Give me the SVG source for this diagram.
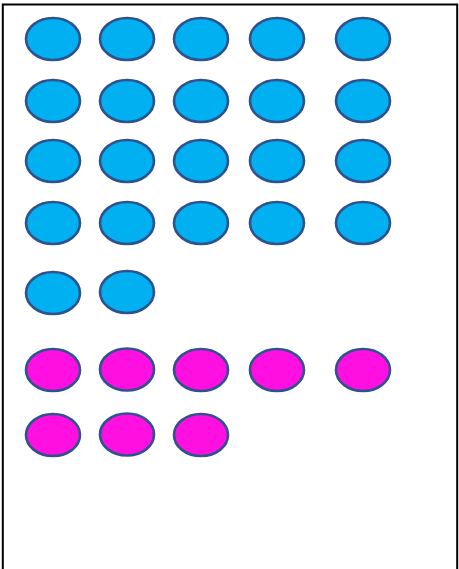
<svg xmlns="http://www.w3.org/2000/svg" width="459" height="569" viewBox="0 0 459 569">
<style>
.b{fill:#00B0F0;stroke:#2F528F;stroke-width:2.6}
.m{fill:#FF10E0;stroke:#2F528F;stroke-width:2.6}
</style>
<rect x="0" y="0" width="459" height="569" fill="#ffffff"/>
<rect id="frame" x="2.8" y="4.5" width="454.4" height="580" fill="none" stroke="#000" stroke-width="2"/>
<g id="blue">
<g id="b1"><ellipse class="b" cx="53" cy="39" rx="27" ry="21"/></g>
<g id="b2"><ellipse class="b" cx="127" cy="39" rx="27" ry="21"/></g>
<g id="b3"><ellipse class="b" cx="201" cy="39" rx="27" ry="21"/></g>
<g id="b4"><ellipse class="b" cx="277" cy="39" rx="27" ry="21"/></g>
<g id="b5"><ellipse class="b" cx="363" cy="39" rx="27" ry="21"/></g>
<g id="b6"><ellipse class="b" cx="53" cy="101" rx="27" ry="21"/></g>
<g id="b7"><ellipse class="b" cx="127" cy="101" rx="27" ry="21"/></g>
<g id="b8"><ellipse class="b" cx="201" cy="101" rx="27" ry="21"/></g>
<g id="b9"><ellipse class="b" cx="277" cy="101" rx="27" ry="21"/></g>
<g id="b10"><ellipse class="b" cx="363" cy="101" rx="27" ry="21"/></g>
<g id="b11"><ellipse class="b" cx="53" cy="161" rx="27" ry="21"/></g>
<g id="b12"><ellipse class="b" cx="127" cy="161" rx="27" ry="21"/></g>
<g id="b13"><ellipse class="b" cx="201" cy="161" rx="27" ry="21"/></g>
<g id="b14"><ellipse class="b" cx="277" cy="161" rx="27" ry="21"/></g>
<g id="b15"><ellipse class="b" cx="363" cy="161" rx="27" ry="21"/></g>
<g id="b16"><ellipse class="b" cx="53" cy="223" rx="27" ry="21"/></g>
<g id="b17"><ellipse class="b" cx="127" cy="223" rx="27" ry="21"/></g>
<g id="b18"><ellipse class="b" cx="201" cy="223" rx="27" ry="21"/></g>
<g id="b19"><ellipse class="b" cx="277" cy="223" rx="27" ry="21"/></g>
<g id="b20"><ellipse class="b" cx="363" cy="223" rx="27" ry="21"/></g>
<g id="b21"><ellipse class="b" cx="53" cy="293" rx="27" ry="21"/></g>
<g id="b22"><ellipse class="b" cx="127" cy="292" rx="27" ry="21"/></g>
</g>
<g id="magenta">
<g id="m1"><ellipse class="m" cx="53" cy="370" rx="27" ry="21"/></g>
<g id="m2"><ellipse class="m" cx="127" cy="369.5" rx="27" ry="21"/></g>
<g id="m3"><ellipse class="m" cx="201" cy="370" rx="27" ry="21"/></g>
<g id="m4"><ellipse class="m" cx="277" cy="370" rx="27" ry="21"/></g>
<g id="m5"><ellipse class="m" cx="363" cy="370" rx="27" ry="21"/></g>
<g id="m6"><ellipse class="m" cx="53" cy="435" rx="27" ry="21"/></g>
<g id="m7"><ellipse class="m" cx="127" cy="434.5" rx="27" ry="21"/></g>
<g id="m8"><ellipse class="m" cx="201" cy="435" rx="27" ry="21"/></g>
</g>
<g id="connectors"/>
</svg>
